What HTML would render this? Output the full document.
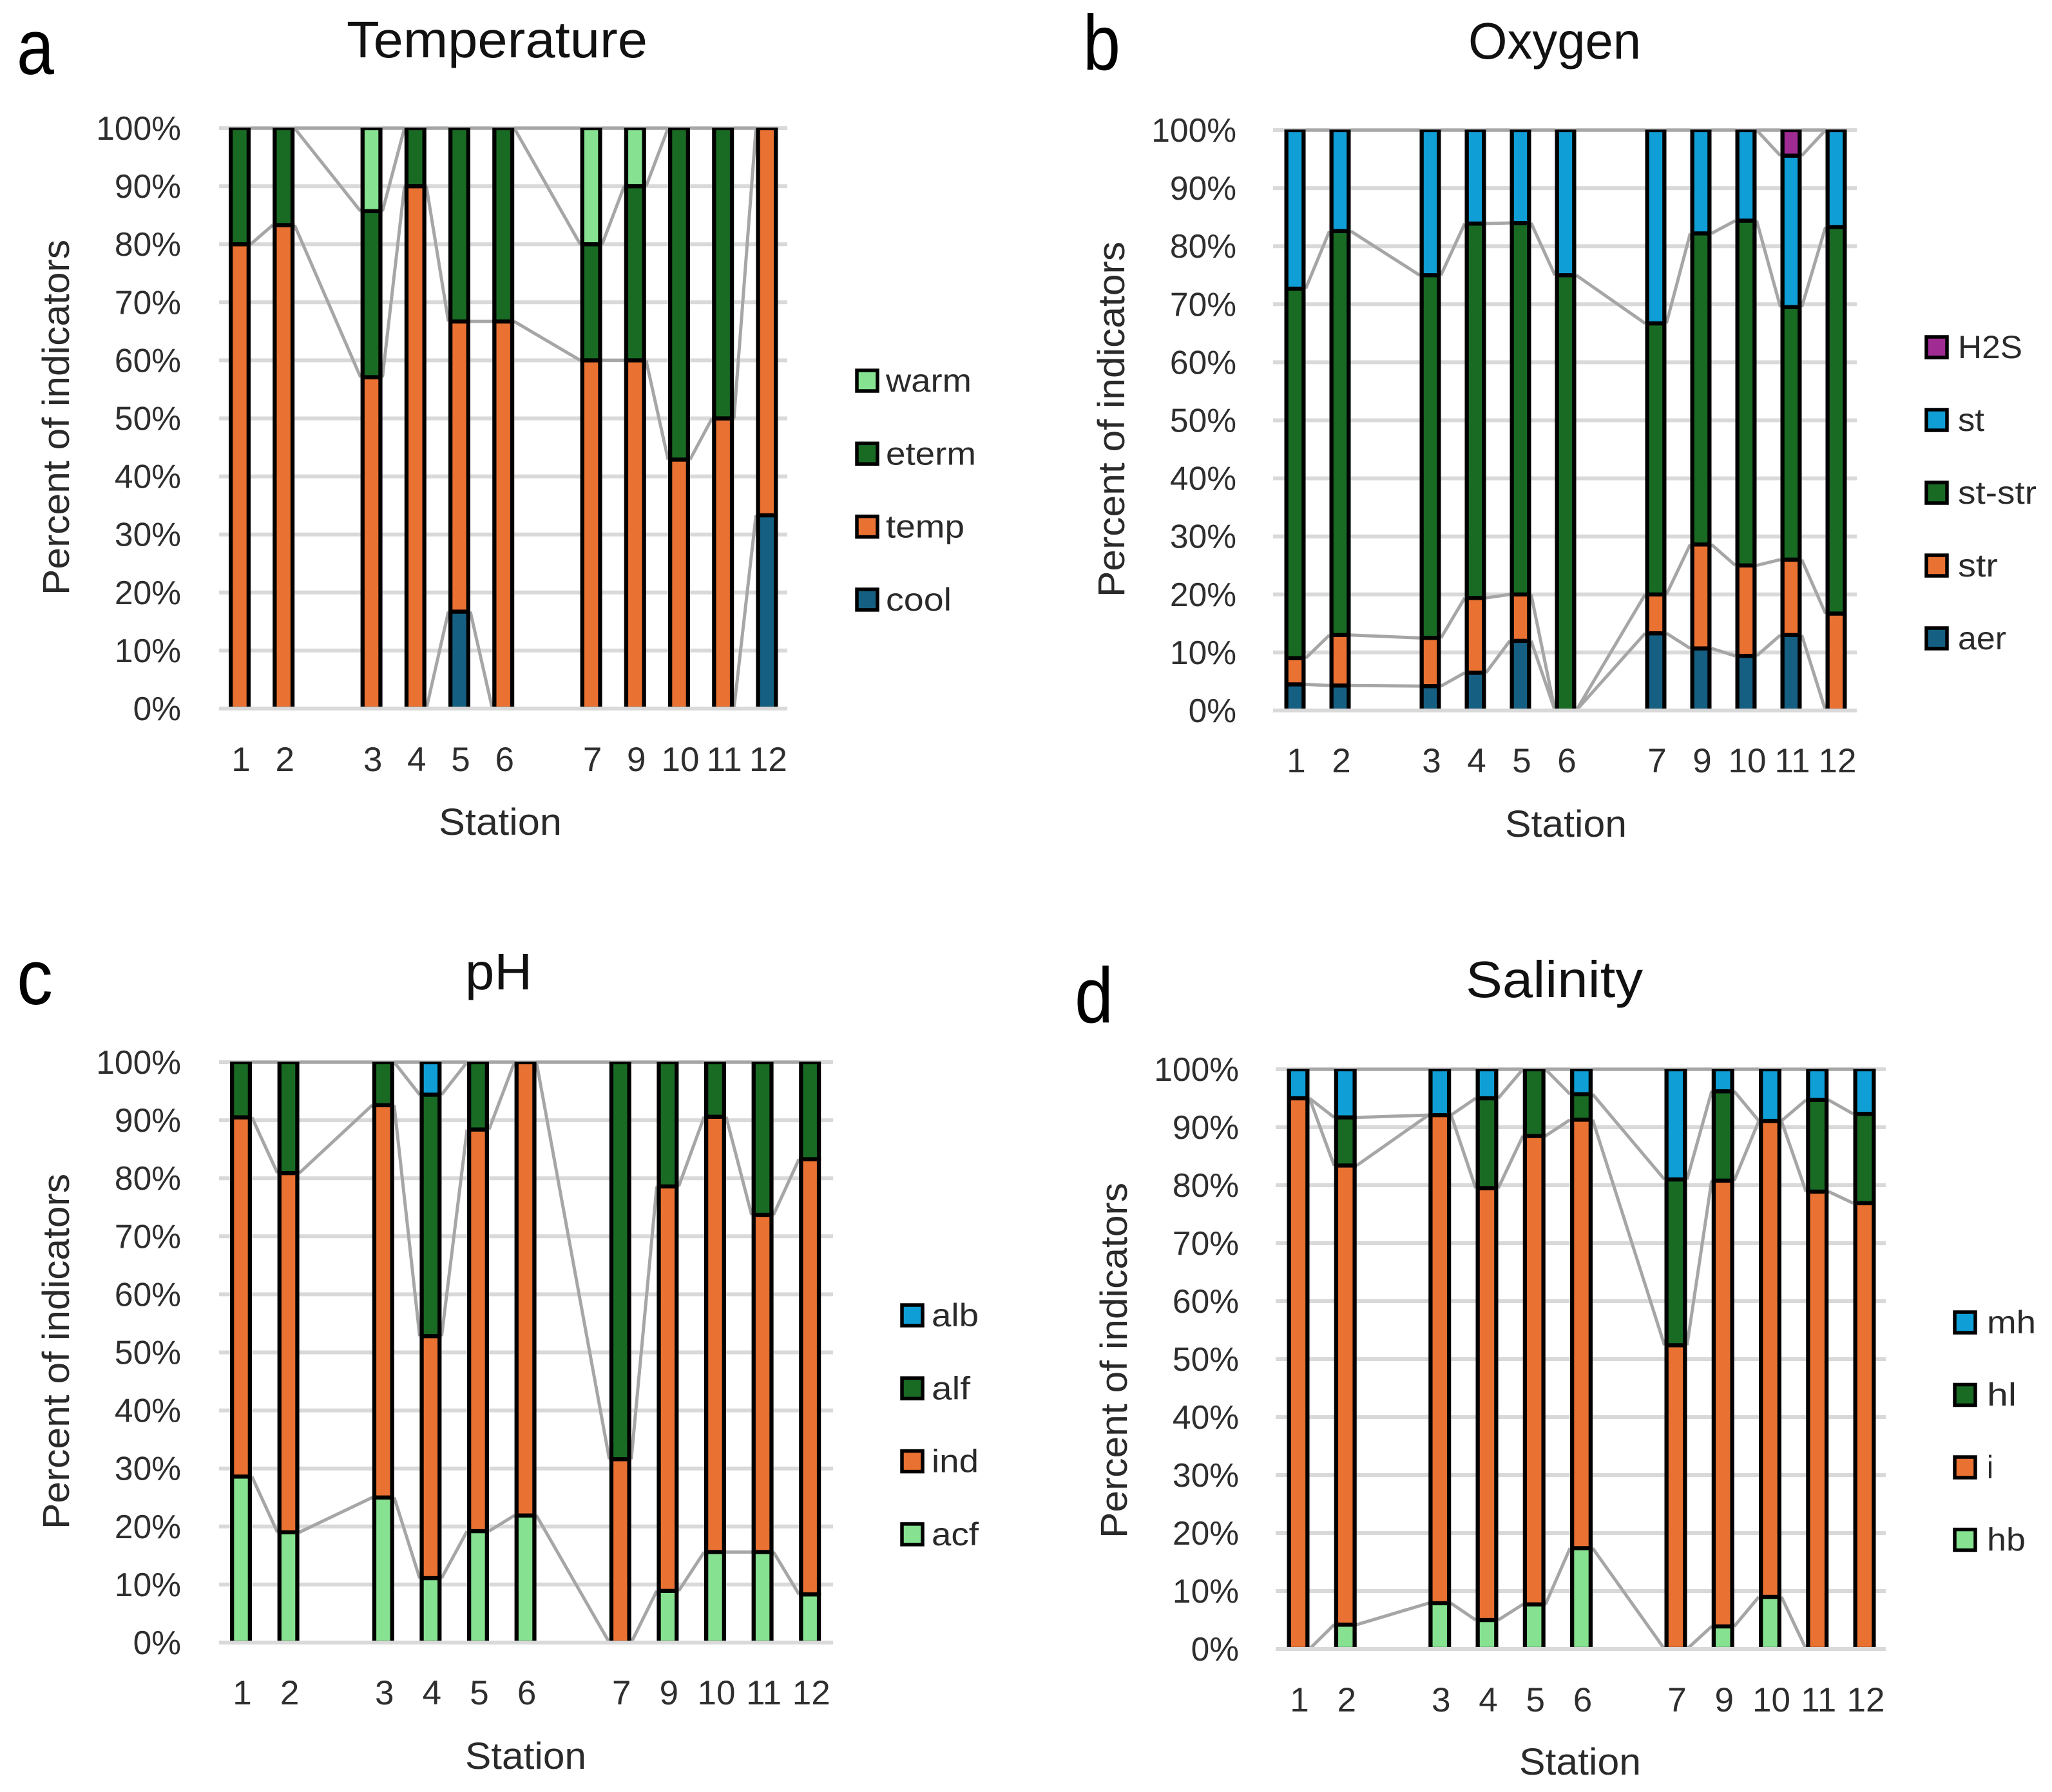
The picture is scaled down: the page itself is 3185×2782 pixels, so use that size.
<!DOCTYPE html>
<html lang="en">
<head>
<meta charset="utf-8">
<title>Indicator composition by station</title>
<style>
html,body{margin:0;padding:0;background:#fff;}
svg{display:block;}
text{font-family:"Liberation Sans",sans-serif;}
</style>
</head>
<body>
<svg id="figure" xmlns="http://www.w3.org/2000/svg" width="3185" height="2782" viewBox="0 0 3185 2782"></svg>
<script>
// Shared categories (blank entries are gaps on the axis)
const stationCategories = ['1','2','','3','4','5','6','','7','9','10','11','12'];
const percentTicks = [0,10,20,30,40,50,60,70,80,90,100];

// Temperature values (bottom to top)
const tempCool  = [0,0,null,0,0,16.7,0,null,0,0,0,0,33.3];
const tempTemp  = [80,83.3,null,57.1,90,50,66.7,null,60,60,42.9,50,66.7];
const tempEterm = [20,16.7,null,28.6,10,33.3,33.3,null,20,30,57.1,50,0];
const tempWarm  = [0,0,null,14.3,0,0,0,null,20,10,0,0,0];

// Oxygen values
const oxyAer   = [4.5,4.3,null,4.2,6.5,12,0,null,13.3,10.7,9.4,13,0];
const oxyStr   = [4.5,8.7,null,8.3,12.9,8,0,null,6.7,17.9,15.6,13,16.7];
const oxyStStr = [63.6,69.6,null,62.5,64.5,64,75,null,46.7,53.6,59.4,43.5,66.6];
const oxySt    = [27.3,17.4,null,25,16.1,16,25,null,33.3,17.8,15.6,26.1,16.7];
const oxyH2s   = [0,0,null,0,0,0,0,null,0,0,0,4.4,0];

// pH values
const phAcf = [28.6,19,null,25,11.1,19.2,21.9,null,0,8.9,15.6,15.6,8.3];
const phInd = [61.9,61.9,null,67.6,41.7,69.2,78.1,null,31.6,69.7,75,58.1,75];
const phAlf = [9.5,19.1,null,7.4,41.6,11.6,0,null,68.4,21.4,9.4,26.3,16.7];
const phAlb = [0,0,null,0,5.6,0,0,null,0,0,0,0,0];

// Salinity values
const salHb = [0,4.2,null,7.9,5,7.7,17.4,null,0,3.9,9,0,0];
const salI  = [95,79.2,null,84.2,74.5,80.8,73.9,null,52.4,76.9,82.1,78.9,76.9];
const salHl = [0,8.3,null,0,15.5,11.5,4.4,null,28.6,15.4,0,15.8,15.4];
const salMh = [5,8.3,null,7.9,5,0,4.3,null,19,3.8,8.9,5.3,7.7];

const C = {cool:'#156082',orange:'#E97132',dark:'#196B24',light:'#86E290',sky:'#0F9ED5',purple:'#A02B93'};

const SVG_NS = 'http://www.w3.org/2000/svg';
const root = document.getElementById('figure');
const BAR_STROKE = 6.3;

function mk(parent, tag, attrs){
  const el = document.createElementNS(SVG_NS, tag);
  for (const k in attrs) el.setAttribute(k, attrs[k]);
  parent.appendChild(el);
  return el;
}
function txt(parent, str, x, y, size, anchor, fill, len){
  const el = mk(parent, 'text', {x:x, y:y, 'font-size':size, 'text-anchor':anchor, fill:fill});
  if (len){ el.setAttribute('textLength', len); el.setAttribute('lengthAdjust', 'spacingAndGlyphs'); }
  el.textContent = str;
  return el;
}

function drawPanel(p, idx){
  const yScale = v => p.bottom - v / 100 * (p.bottom - p.top);
  const xScale = i => p.x0 + i * p.step;
  const outer = p.barOuter;
  const barW = outer - BAR_STROKE;

  const g = mk(root, 'g', {});
  
  

  // panel letter and title
  const letter = txt(g, p.letter, p.letterX, p.letterY, 122, 'start', '#000', p.letterW);
  
  
  const title = txt(g, p.title, p.titleX, p.titleY, 80, 'start', '#111', p.titleW);
  
  

  // gridlines and y ticks (the 0% baseline is drawn after the bars)
  percentTicks.forEach(t => {
    const y = yScale(t);
    if (t !== 0){
      const line = mk(g, 'line', {x1:p.gridL, x2:p.gridR, y1:y, y2:y, stroke:'#D9D9D9', 'stroke-width':6});
      
      
    }
    const lab = txt(g, t + '%', p.tickX, y + 18, 51.5, 'end', '#2e2e2e');
    
    
  });

  // normalised stacks (100% stacked)
  const present = [];
  stationCategories.forEach((c, i) => { if (c !== '') present.push(i); });
  const stacks = {};
  present.forEach(i => {
    let total = 0;
    p.series.forEach(s => { total += s.values[i] || 0; });
    let run = 0;
    stacks[i] = p.series.map(s => {
      const from = run;
      run += (s.values[i] || 0) / (total || 1) * 100;
      return {from: from, to: run};
    });
  });

  // series lines linking the stacks
  p.series.forEach((s, k) => {
    for (let n = 0; n < present.length - 1; n++){
      const a = present[n], b = present[n + 1];
      const seg = mk(g, 'line', {
        x1:xScale(a) + outer / 2, y1:yScale(stacks[a][k].to),
        x2:xScale(b) - outer / 2, y2:yScale(stacks[b][k].to),
        stroke:'#A6A6A6', 'stroke-width':5
      });
      
      
    }
  });

  // bars, clipped to plot area
  const clipId = 'clip-' + idx;
  const defs = mk(g, 'defs', {});
  const clip = mk(defs, 'clipPath', {id:clipId});
  mk(clip, 'rect', {x:p.gridL, y:p.top - 1, width:p.gridR - p.gridL, height:p.bottom - p.top + 2});
  const bars = mk(g, 'g', {'clip-path':'url(#' + clipId + ')'});
  
  
  p.series.forEach((s, k) => {
    present.forEach(i => {
      const st = stacks[i][k];
      if (st.to - st.from <= 0) return;
      const r = mk(bars, 'rect', {
        x:xScale(i) - barW / 2, y:yScale(st.to), width:barW,
        height:yScale(st.from) - yScale(st.to),
        fill:s.color, stroke:'#000', 'stroke-width':BAR_STROKE
      });
      
      
    });
  });

  // 0% baseline sits on top of the bars
  const base = mk(g, 'line', {x1:p.gridL, x2:p.gridR, y1:yScale(0), y2:yScale(0), stroke:'#D9D9D9', 'stroke-width':6});
  
  

  // category labels
  present.forEach(i => {
    const lab = txt(g, stationCategories[i], xScale(i) + 2, p.catY, 53, 'middle', '#2e2e2e');
    
    
  });

  // axis titles
  const xt = txt(g, 'Station', p.xTitleX, p.xTitleY, 58, 'start', '#2a2a2a', p.xTitleW);
  
  
  const yt = txt(g, 'Percent of indicators', 0, 0, 58, 'middle', '#2a2a2a', 552);
  yt.setAttribute('transform', 'translate(' + p.yTitleX + ',' + p.yTitleY + ') rotate(-90)');
  
  

  // legend (top of the stack first)
  const reversed = p.series.slice().reverse();
  reversed.forEach((s, n) => {
    const cy = p.legendY + n * p.legendStep;
    const entry = mk(g, 'g', {});
    
    
    mk(entry, 'rect', {x:p.legendX - 16, y:cy - 16, width:32, height:32, fill:s.color, stroke:'#000', 'stroke-width':5.5});
    txt(entry, s.name, p.legendTextX, cy + 17, 50, 'start', '#2a2a2a', s.labelW);
  });
}

const panels = [
  {key:'temperature', letter:'a', letterX:26, letterY:115, letterW:58, title:'Temperature', titleX:538, titleY:89, titleW:467,
   top:199, bottom:1100, gridL:340, gridR:1222, x0:372, step:68.2, barOuter:34, tickX:281, catY:1197,
   xTitleX:681, xTitleY:1296, xTitleW:191, yTitleX:107, yTitleY:648,
   legendX:1346, legendTextX:1375, legendY:591, legendStep:113.3,
   series:[
    {name:'cool', color:C.cool, values:tempCool, labelW:102},
    {name:'temp', color:C.orange, values:tempTemp, labelW:122},
    {name:'eterm', color:C.dark, values:tempEterm, labelW:140},
    {name:'warm', color:C.light, values:tempWarm, labelW:133}]},
  {key:'oxygen', letter:'b', letterX:1681, letterY:108, letterW:58, title:'Oxygen', titleX:2279, titleY:91, titleW:268,
   top:202, bottom:1103, gridL:1976, gridR:2882, x0:2010, step:70, barOuter:33, tickX:1919, catY:1199,
   xTitleX:2336, xTitleY:1299, xTitleW:189, yTitleX:1745, yTitleY:651,
   legendX:3006, legendTextX:3039, legendY:539, legendStep:113,
   series:[
    {name:'aer', color:C.cool, values:oxyAer, labelW:75},
    {name:'str', color:C.orange, values:oxyStr, labelW:62},
    {name:'st-str', color:C.dark, values:oxyStStr, labelW:122},
    {name:'st', color:C.sky, values:oxySt, labelW:41},
    {name:'H2S', color:C.purple, values:oxyH2s, labelW:100}]},
  {key:'ph', letter:'c', letterX:26, letterY:1559, letterW:56, title:'pH', titleX:722, titleY:1536, titleW:104,
   top:1649, bottom:2550, gridL:340, gridR:1293, x0:374, step:73.6, barOuter:34, tickX:281, catY:2646,
   xTitleX:722, xTitleY:2746, xTitleW:188, yTitleX:107, yTitleY:2098,
   legendX:1416, legendTextX:1446, legendY:2042, legendStep:113.3,
   series:[
    {name:'acf', color:C.light, values:phAcf, labelW:73},
    {name:'ind', color:C.orange, values:phInd, labelW:73},
    {name:'alf', color:C.dark, values:phAlf, labelW:60},
    {name:'alb', color:C.sky, values:phAlb, labelW:73}]},
  {key:'salinity', letter:'d', letterX:1668, letterY:1587, letterW:60, title:'Salinity', titleX:2275, titleY:1548, titleW:275,
   top:1660, bottom:2560, gridL:1980, gridR:2927, x0:2015, step:73.25, barOuter:35, tickX:1923, catY:2657,
   xTitleX:2358, xTitleY:2755, xTitleW:189, yTitleX:1749, yTitleY:2112,
   legendX:3050, legendTextX:3084, legendY:2053, legendStep:112.5,
   series:[
    {name:'hb', color:C.light, values:salHb, labelW:60},
    {name:'i', color:C.orange, values:salI, labelW:10},
    {name:'hl', color:C.dark, values:salHl, labelW:46},
    {name:'mh', color:C.sky, values:salMh, labelW:76}]}
];

panels.forEach(drawPanel);
</script>
</body>
</html>
